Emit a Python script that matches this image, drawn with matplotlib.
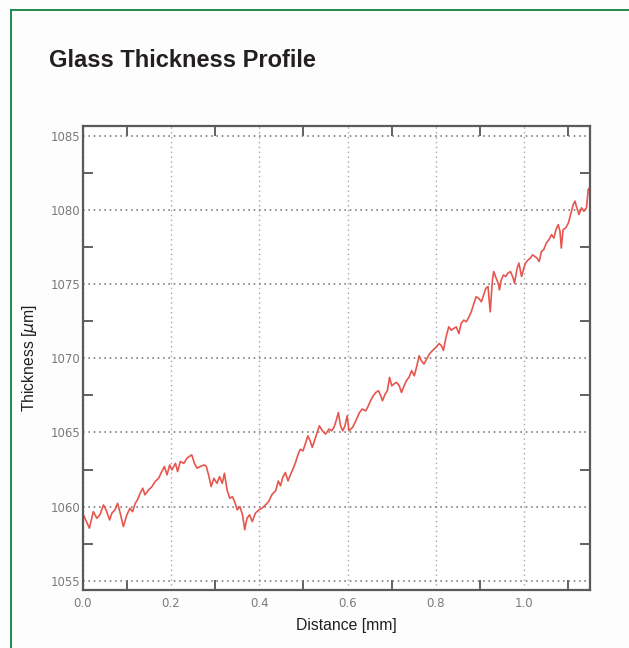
import matplotlib
matplotlib.use('Agg')
import matplotlib.pyplot as plt
from matplotlib.lines import Line2D
from matplotlib.ticker import MultipleLocator


# Glass thickness profile

dist_a = [0.0, 0.015, 0.024, 0.032, 0.039, 0.047, 0.053, 0.061, 0.066, 0.073,
          0.079, 0.085, 0.092, 0.100, 0.107, 0.113, 0.119, 0.124, 0.130, 0.136,
          0.141, 0.149, 0.157, 0.164, 0.172, 0.179, 0.185, 0.191, 0.197, 0.202,
          0.210, 0.215, 0.221, 0.229, 0.236, 0.241, 0.247, 0.253, 0.259, 0.266,
          0.275, 0.280, 0.285, 0.291, 0.297, 0.304, 0.310, 0.316, 0.321, 0.327,
          0.333, 0.339, 0.344, 0.350, 0.356, 0.362, 0.367, 0.372, 0.378, 0.384,
          0.391, 0.399, 0.406, 0.414, 0.421]
thick_a = [1059.55, 1058.54, 1059.66, 1059.21, 1059.44, 1060.11, 1059.78, 1059.10, 1059.55, 1059.78,
           1060.22, 1059.55, 1058.65, 1059.44, 1059.89, 1059.66, 1060.22, 1060.45, 1060.90, 1061.24,
           1060.79, 1061.12, 1061.35, 1061.69, 1061.91, 1062.36, 1062.70, 1062.14, 1062.81, 1062.47,
           1062.92, 1062.36, 1063.04, 1062.92, 1063.26, 1063.37, 1063.49, 1062.92, 1062.59, 1062.70,
           1062.81, 1062.70, 1062.14, 1061.35, 1061.91, 1061.57, 1062.02, 1061.57, 1062.25, 1061.12,
           1060.56, 1060.67, 1060.34, 1059.78, 1060.00, 1059.44, 1058.43, 1059.21, 1059.44, 1058.99,
           1059.55, 1059.78, 1059.89, 1060.11, 1060.34]

dist_b = [0.429, 0.437, 0.443, 0.448, 0.453, 0.459, 0.465, 0.471, 0.476, 0.482,
          0.488, 0.493, 0.499, 0.505, 0.510, 0.515, 0.520, 0.526, 0.531, 0.536,
          0.543, 0.550, 0.558, 0.564, 0.569, 0.574, 0.579, 0.584, 0.589, 0.594,
          0.599, 0.603, 0.611, 0.617, 0.622, 0.627, 0.633, 0.641, 0.647, 0.652,
          0.658, 0.664, 0.670, 0.675, 0.679, 0.685, 0.690, 0.695, 0.700, 0.705,
          0.711, 0.717, 0.722, 0.728, 0.733, 0.739, 0.745, 0.751, 0.756, 0.762,
          0.767, 0.773, 0.779, 0.785, 0.792, 0.800]
thick_b = [1060.83, 1061.06, 1061.73, 1061.40, 1061.96, 1062.30, 1061.73, 1062.18, 1062.52, 1062.97,
           1063.54, 1063.87, 1063.76, 1064.32, 1064.77, 1064.44, 1063.99, 1064.55, 1065.00, 1065.45,
           1065.11, 1064.89, 1065.23, 1065.11, 1065.34, 1065.79, 1066.35, 1065.45, 1065.11, 1065.45,
           1066.13, 1065.11, 1065.34, 1065.68, 1066.01, 1066.35, 1066.58, 1066.46, 1066.80, 1067.14,
           1067.48, 1067.70, 1067.82, 1067.48, 1067.14, 1067.59, 1067.82, 1068.72, 1068.15, 1068.27,
           1068.38, 1068.15, 1067.70, 1068.15, 1068.49, 1068.72, 1069.17, 1068.83, 1069.39, 1070.18,
           1069.84, 1069.62, 1069.95, 1070.29, 1070.52, 1070.74]

dist_c = [0.807, 0.812, 0.817, 0.823, 0.829, 0.835, 0.840, 0.846, 0.852, 0.857,
          0.863, 0.869, 0.875, 0.880, 0.885, 0.891, 0.897, 0.903, 0.908, 0.913,
          0.918, 0.923, 0.928, 0.931, 0.935, 0.941, 0.944, 0.948, 0.953, 0.958,
          0.963, 0.969, 0.975, 0.978, 0.984, 0.988, 0.994, 0.999, 1.003, 1.009,
          1.014, 1.019, 1.024, 1.029, 1.034, 1.039, 1.044, 1.050, 1.056, 1.062,
          1.067, 1.072, 1.077, 1.081, 1.084, 1.088, 1.094, 1.100, 1.105, 1.111,
          1.115, 1.118, 1.124, 1.130, 1.135, 1.141, 1.145, 1.149]
thick_c = [1071.00, 1070.88, 1070.54, 1071.45, 1072.13, 1071.90, 1072.01, 1072.13, 1071.67, 1072.35,
           1072.58, 1072.47, 1072.81, 1073.14, 1073.60, 1074.16, 1074.05, 1073.82, 1074.28, 1074.73,
           1074.84, 1073.14, 1075.29, 1075.86, 1075.52, 1075.07, 1074.62, 1075.29, 1075.63, 1075.52,
           1075.75, 1075.86, 1075.41, 1075.07, 1076.09, 1076.43, 1075.52, 1076.09, 1076.43, 1076.65,
           1076.76, 1076.99, 1076.88, 1076.76, 1076.54, 1077.22, 1077.33, 1077.78, 1078.01, 1078.35,
           1078.12, 1078.69, 1079.03, 1078.57, 1077.44, 1078.69, 1078.80, 1079.14, 1079.71, 1080.38,
           1080.61, 1080.27, 1079.71, 1080.16, 1079.93, 1080.16, 1081.40, 1081.52]

x_ticks = [0.0, 0.2, 0.4, 0.6, 0.8, 1.0]
x_labels = ['0.0', '0.2', '0.4', '0.6', '0.8', '1.0']
y_ticks = [1055, 1060, 1065, 1070, 1075, 1080, 1085]

dist = dist_a + dist_b + dist_c
thick = thick_a + thick_b + thick_c


fig = plt.figure(figsize=(6.29, 6.48), dpi=100)
fig.patch.set_facecolor('#fdfdfd')

# green frame (top and left edge only, the rest is cut off)
fig.add_artist(Line2D([11/629, 1.0], [1 - 9.5/648, 1 - 9.5/648], color='#1d8a4e', lw=1.4,
                      transform=fig.transFigure))
fig.add_artist(Line2D([11/629, 11/629], [0.0, 1 - 9.5/648], color='#1d8a4e', lw=1.4,
                      transform=fig.transFigure))

fig.text(49/629, 1 - 67/648, 'Glass Thickness Profile', family='Liberation Sans',
         weight='bold', fontsize=17, color='#231f20', va='baseline', ha='left')

ax = fig.add_axes([0.1315, 0.0895, 0.8065, 0.7165])
ax.set_facecolor('white')

ax.plot(dist, thick, color='#e6564e', lw=1.2)

ax.set_xlim(0, 1.149)
ax.set_ylim(1054.37, 1085.7)

ax.set_xticks(x_ticks)
ax.set_xticklabels(x_labels)
ax.set_yticks(y_ticks)
ax.xaxis.set_minor_locator(MultipleLocator(0.1))
ax.yaxis.set_minor_locator(MultipleLocator(2.5))

ax.grid(True, which='major', axis='y', color='#808080', linestyle=(0, (1, 2.2)), lw=1.2)
ax.grid(True, which='major', axis='x', color='#a5a5a5', linestyle=(0, (1, 2.5)), lw=1.0)

ax.tick_params(which='major', direction='in', length=0, labelsize=8.5,
               labelcolor='#7a7a7a', pad=5)
ax.tick_params(axis='y', which='major', pad=2)
ax.tick_params(which='minor', direction='in', length=7, width=1.3, color='#555555',
               top=True, right=True)
for lab in ax.get_xticklabels() + ax.get_yticklabels():
    lab.set_family('DejaVu Sans')

for s in ax.spines.values():
    s.set_color('#5a5a5a')
    s.set_linewidth(1.6)

ax.set_xlabel('Distance [mm]', family='Liberation Sans', fontsize=11.3, color='#231f20',
              va='center')
ax.xaxis.set_label_coords(0.519, -0.077)
ax.set_ylabel('Thickness [$\\mu$m]', family='Liberation Sans', fontsize=11.3,
              color='#231f20', va='center')
ax.yaxis.set_label_coords(-0.104, 0.5)

fig.savefig('out.png', dpi=100, facecolor=fig.get_facecolor())
